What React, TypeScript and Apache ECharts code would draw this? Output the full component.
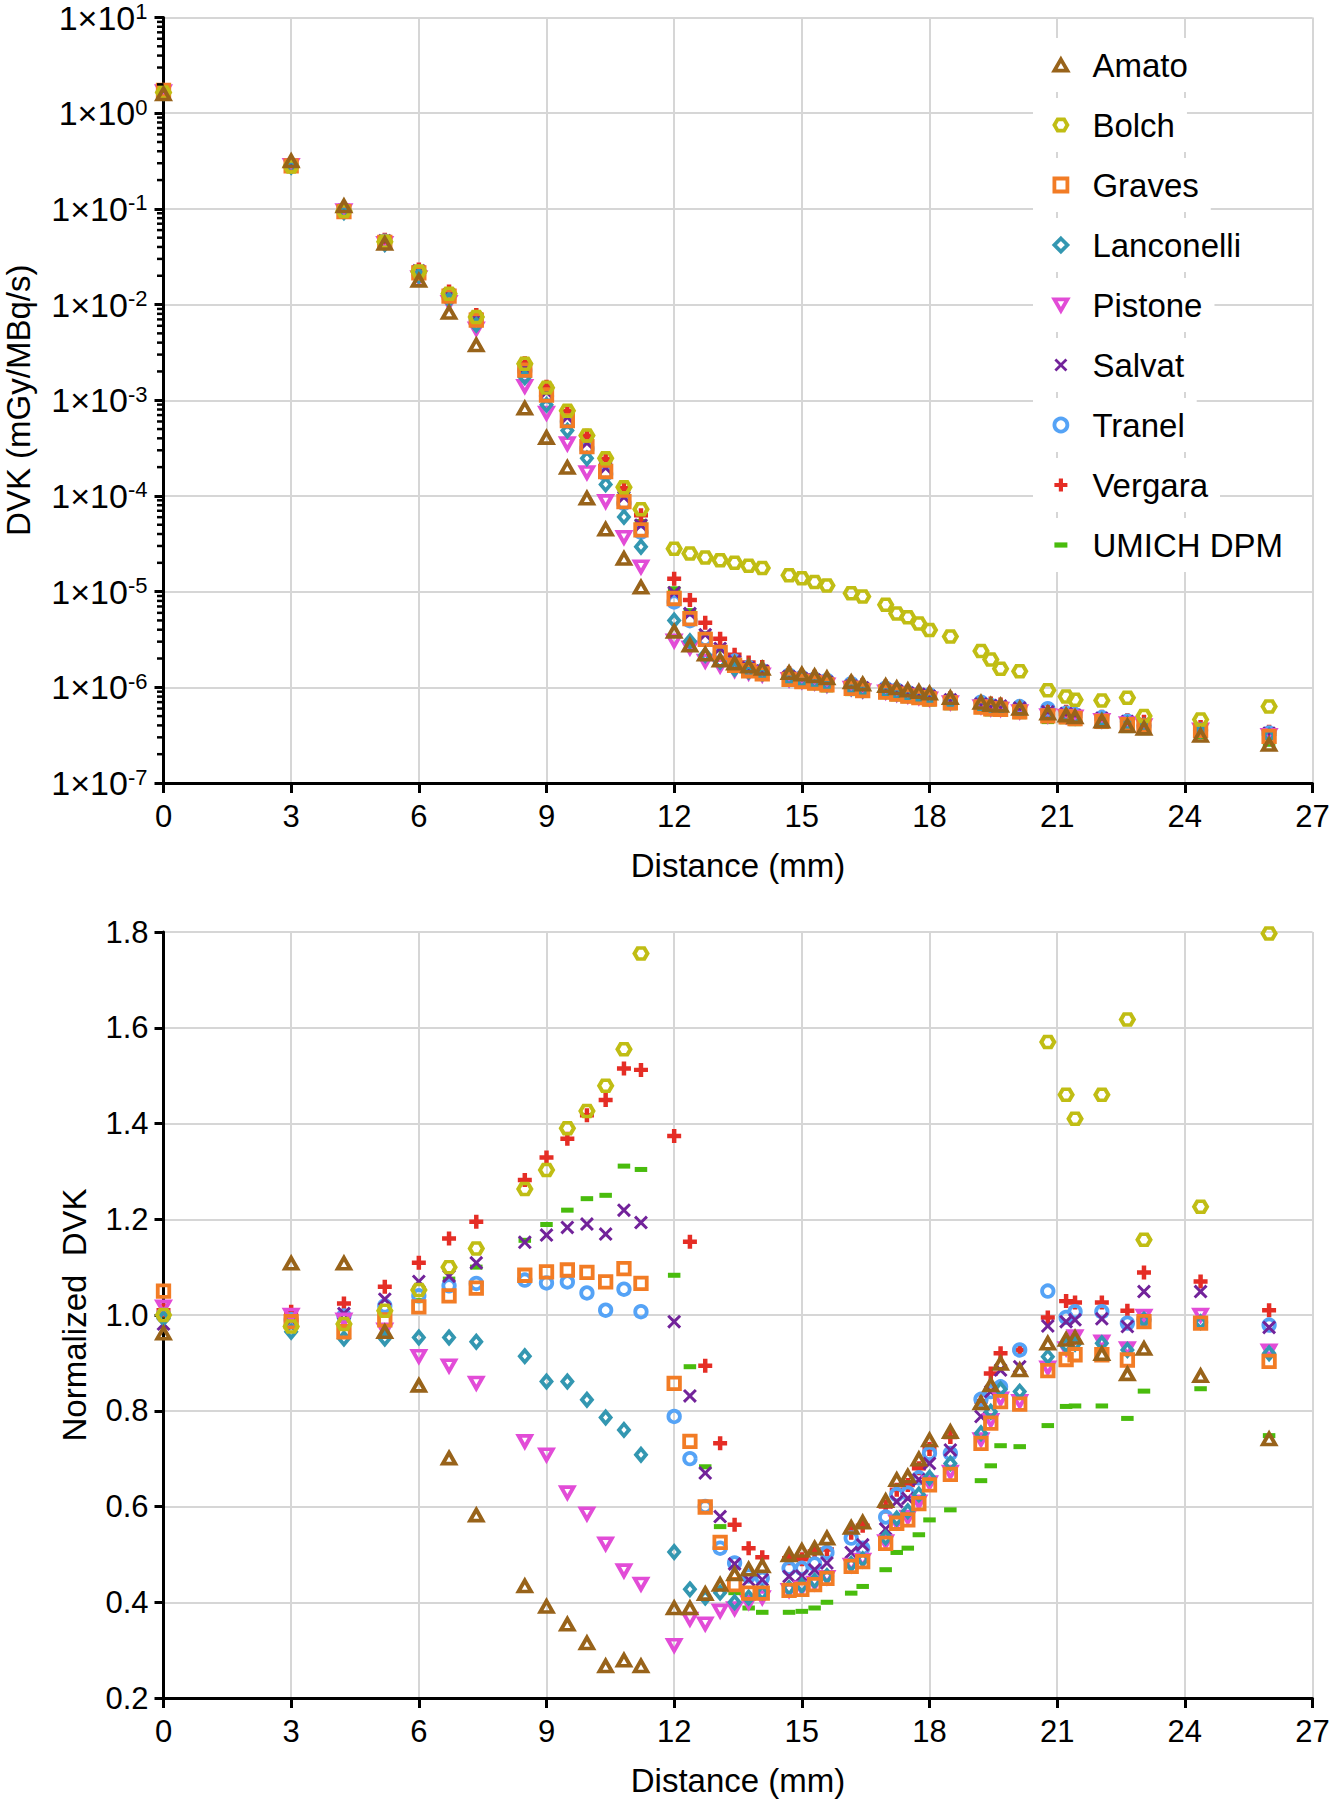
import React, { useEffect, useRef } from 'react';
import * as echarts from 'echarts';

const FONT = '"Liberation Sans", Arial, Helvetica, sans-serif';

// Distance from source voxel (mm)
const distanceMm = [0, 3.0, 4.24, 5.2, 6.0, 6.71, 7.35, 8.49, 9.0, 9.49, 9.95, 10.39, 10.82, 11.22, 12.0, 12.37, 12.73, 13.08, 13.42, 13.75, 14.07, 14.7, 15.0, 15.3, 15.59, 16.16, 16.43, 16.97, 17.23, 17.49, 17.75, 18.0, 18.49, 19.21, 19.44, 19.67, 20.12, 20.78, 21.21, 21.42, 22.05, 22.65, 23.04, 24.37, 25.98];

// Top panel: DVK (mGy/MBq/s)
const amatoDVK = [1.59, 0.316, 0.107, 0.0434, 0.0179, 0.00827, 0.00378, 8.25e-4, 4.07e-4, 1.98e-4, 9.45e-5, 4.49e-5, 2.22e-5, 1.11e-5, 3.84e-6, 2.75e-6, 2.22e-6, 1.92e-6, 1.79e-6, 1.66e-6, 1.57e-6, 1.42e-6, 1.37e-6, 1.31e-6, 1.25e-6, 1.14e-6, 1.08e-6, 1.04e-6, 9.84e-7, 9.35e-7, 9.02e-7, 8.65e-7, 7.79e-7, 6.94e-7, 6.58e-7, 6.47e-7, 6.02e-7, 5.36e-7, 5.12e-7, 4.91e-7, 4.41e-7, 3.95e-7, 3.72e-7, 3.14e-7, 2.52e-7];
const bolchDVK = [1.65, 0.278, 0.0952, 0.0454, 0.0221, 0.0130, 0.0074, 2.4e-3, 1.355e-3, 7.78e-4, 4.28e-4, 2.48e-4, 1.236e-4, 7.28e-5, 2.8e-5, 2.5e-5, 2.27e-5, 2.13e-5, 2.0e-5, 1.86e-5, 1.77e-5, 1.48e-5, 1.38e-5, 1.26e-5, 1.16e-5, 9.6e-6, 8.9e-6, 7.3e-6, 5.9e-6, 5.4e-6, 4.65e-6, 3.96e-6, 3.4e-6, 2.4e-6, 1.95e-6, 1.56e-6, 1.47e-6, 9.3e-7, 8.0e-7, 7.4e-7, 7.3e-7, 7.8e-7, 5.0e-7, 4.6e-7, 6.3e-7];
const gravesDVK = [1.73, 0.281, 0.0936, 0.0446, 0.0214, 0.01227, 0.00686, 2.06e-3, 1.134e-3, 6.13e-4, 3.27e-4, 1.8e-4, 8.72e-5, 4.42e-5, 8.48e-6, 5.23e-6, 3.17e-6, 2.31e-6, 1.70e-6, 1.49e-6, 1.38e-6, 1.21e-6, 1.15e-6, 1.11e-6, 1.06e-6, 9.74e-7, 9.22e-7, 8.89e-7, 8.48e-7, 8.07e-7, 7.82e-7, 7.55e-7, 6.87e-7, 6.22e-7, 5.96e-7, 5.9e-7, 5.54e-7, 5.04e-7, 4.9e-7, 4.72e-7, 4.4e-7, 4.08e-7, 3.94e-7, 3.54e-7, 3.07e-7];
const lanconelliDVK = [1.64, 0.275, 0.0922, 0.0428, 0.020, 0.01125, 0.00614, 1.74e-3, 8.95e-4, 4.82e-4, 2.47e-4, 1.32e-4, 6.04e-5, 2.94e-5, 5.0e-6, 3.03e-6, 2.17e-6, 1.85e-6, 1.56e-6, 1.46e-6, 1.39e-6, 1.23e-6, 1.17e-6, 1.13e-6, 1.07e-6, 9.84e-7, 9.31e-7, 9.1e-7, 8.63e-7, 8.32e-7, 8.06e-7, 7.72e-7, 7.11e-7, 6.4e-7, 6.14e-7, 6.08e-7, 5.71e-7, 5.2e-7, 5.06e-7, 4.84e-7, 4.52e-7, 4.17e-7, 3.96e-7, 3.55e-7, 3.13e-7];
const pistoneDVK = [1.68, 0.285, 0.096, 0.0436, 0.0192, 0.01055, 0.00558, 1.4e-3, 7.36e-4, 3.52e-4, 1.76e-4, 8.77e-5, 3.7e-5, 1.82e-5, 3.07e-6, 2.59e-6, 1.88e-6, 1.68e-6, 1.51e-6, 1.42e-6, 1.35e-6, 1.21e-6, 1.16e-6, 1.12e-6, 1.06e-6, 9.8e-7, 9.27e-7, 8.96e-7, 8.52e-7, 8.15e-7, 7.87e-7, 7.61e-7, 6.92e-7, 6.29e-7, 6.01e-7, 5.94e-7, 5.58e-7, 5.07e-7, 5.02e-7, 4.92e-7, 4.53e-7, 4.19e-7, 3.99e-7, 3.6e-7, 3.15e-7];
const salvatDVK = [1.62, 0.282, 0.0973, 0.0465, 0.0225, 0.01276, 0.00721, 2.19e-3, 1.214e-3, 6.62e-4, 3.57e-4, 1.96e-4, 9.69e-5, 4.95e-5, 9.76e-6, 5.9e-6, 3.55e-6, 2.55e-6, 1.87e-6, 1.59e-6, 1.48e-6, 1.29e-6, 1.23e-6, 1.19e-6, 1.13e-6, 1.03e-6, 9.88e-7, 9.4e-7, 9.15e-7, 8.7e-7, 8.46e-7, 8.07e-7, 7.4e-7, 6.7e-7, 6.47e-7, 6.37e-7, 6.07e-7, 5.57e-7, 5.32e-7, 5.1e-7, 4.76e-7, 4.39e-7, 4.2e-7, 3.78e-7, 3.31e-7];
const tranelDVK = [1.65, 0.282, 0.0968, 0.0459, 0.0218, 0.01252, 0.00693, 2.04e-3, 1.11e-3, 5.99e-4, 3.14e-4, 1.7e-4, 8.38e-5, 4.18e-5, 7.8e-6, 4.97e-6, 3.18e-6, 2.26e-6, 1.88e-6, 1.62e-6, 1.49e-6, 1.34e-6, 1.27e-6, 1.22e-6, 1.18e-6, 1.09e-6, 9.75e-7, 9.83e-7, 9.38e-7, 8.85e-7, 8.51e-7, 8.32e-7, 7.32e-7, 7.0e-7, 6.47e-7, 6.12e-7, 6.3e-7, 5.99e-7, 5.37e-7, 5.19e-7, 4.83e-7, 4.42e-7, 3.96e-7, 3.55e-7, 3.33e-7];
const vergaraDVK = [1.67, 0.287, 0.0993, 0.0477, 0.0233, 0.01369, 0.00777, 2.44e-3, 1.382e-3, 7.66e-4, 4.25e-4, 2.43e-4, 1.2e-4, 6.27e-5, 1.36e-5, 8.19e-6, 4.74e-6, 3.22e-6, 2.19e-6, 1.82e-6, 1.63e-6, 1.4e-6, 1.32e-6, 1.29e-6, 1.2e-6, 1.12e-6, 1.06e-6, 1.02e-6, 9.53e-7, 9.09e-7, 8.77e-7, 8.42e-7, 7.67e-7, 6.97e-7, 6.76e-7, 6.62e-7, 6.3e-7, 5.67e-7, 5.56e-7, 5.28e-7, 4.92e-7, 4.54e-7, 4.36e-7, 3.85e-7, 3.43e-7];
const umichDVK = [1.65, 0.282, 0.096, 0.045, 0.0216, 0.01269, 0.00715, 2.2e-3, 1.237e-3, 6.83e-4, 3.73e-4, 2.1e-4, 1.042e-4, 5.41e-5, 1.07e-5, 6.33e-6, 3.62e-6, 2.46e-6, 1.64e-6, 1.38e-6, 1.25e-6, 1.08e-6, 1.03e-6, 9.89e-7, 9.4e-7, 8.59e-7, 8.23e-7, 7.96e-7, 7.56e-7, 7.23e-7, 6.98e-7, 6.69e-7, 6.11e-7, 5.56e-7, 5.27e-7, 5.23e-7, 4.93e-7, 4.38e-7, 4.37e-7, 4.17e-7, 3.89e-7, 3.53e-7, 3.36e-7, 3.05e-7, 2.54e-7];

// Bottom panel: normalized DVK
const amatoNorm = [0.962, 1.108, 1.108, 0.965, 0.853, 0.701, 0.582, 0.434, 0.391, 0.354, 0.315, 0.267, 0.279, 0.267, 0.388, 0.388, 0.418, 0.437, 0.459, 0.469, 0.476, 0.499, 0.508, 0.513, 0.534, 0.556, 0.567, 0.612, 0.656, 0.663, 0.699, 0.739, 0.756, 0.816, 0.854, 0.899, 0.885, 0.941, 0.949, 0.953, 0.919, 0.877, 0.93, 0.873, 0.741];
const bolchNorm = [1.0, 0.976, 0.981, 1.009, 1.052, 1.1, 1.139, 1.263, 1.303, 1.39, 1.426, 1.479, 1.555, 1.755, 2.83, 3.52, 4.28, 4.84, 5.13, 5.24, 5.36, 5.19, 5.11, 4.94, 4.94, 4.68, 4.68, 4.29, 3.93, 3.83, 3.6, 3.38, 3.3, 2.82, 2.53, 2.17, 2.16, 1.57, 1.46, 1.41, 1.46, 1.617, 1.157, 1.226, 1.797];
const gravesNorm = [1.05, 0.986, 0.965, 0.99, 1.017, 1.04, 1.056, 1.083, 1.09, 1.094, 1.089, 1.069, 1.097, 1.066, 0.857, 0.736, 0.599, 0.525, 0.437, 0.419, 0.419, 0.425, 0.427, 0.437, 0.45, 0.475, 0.485, 0.523, 0.565, 0.572, 0.606, 0.645, 0.667, 0.732, 0.774, 0.819, 0.814, 0.884, 0.907, 0.917, 0.917, 0.906, 0.986, 0.983, 0.903];
const lanconelliNorm = [0.993, 0.965, 0.951, 0.951, 0.953, 0.953, 0.944, 0.914, 0.861, 0.861, 0.823, 0.786, 0.76, 0.708, 0.505, 0.427, 0.41, 0.42, 0.40, 0.41, 0.42, 0.43, 0.435, 0.445, 0.455, 0.48, 0.49, 0.535, 0.575, 0.59, 0.625, 0.66, 0.69, 0.753, 0.798, 0.845, 0.84, 0.913, 0.937, 0.94, 0.941, 0.927, 0.99, 0.985, 0.92];
const pistoneNorm = [1.017, 1.0, 0.99, 0.969, 0.914, 0.894, 0.858, 0.736, 0.708, 0.629, 0.585, 0.522, 0.466, 0.438, 0.31, 0.365, 0.355, 0.382, 0.387, 0.40, 0.41, 0.425, 0.43, 0.44, 0.452, 0.478, 0.488, 0.527, 0.568, 0.578, 0.61, 0.65, 0.672, 0.74, 0.78, 0.825, 0.82, 0.89, 0.93, 0.955, 0.944, 0.93, 0.998, 1.0, 0.925];
const salvatNorm = [0.981, 0.99, 1.003, 1.033, 1.07, 1.081, 1.109, 1.152, 1.167, 1.183, 1.19, 1.169, 1.219, 1.193, 0.986, 0.831, 0.67, 0.579, 0.48, 0.447, 0.447, 0.454, 0.455, 0.468, 0.482, 0.504, 0.52, 0.553, 0.61, 0.617, 0.656, 0.69, 0.718, 0.788, 0.84, 0.885, 0.892, 0.977, 0.986, 0.99, 0.992, 0.976, 1.049, 1.049, 0.974];
const tranelNorm = [1.0, 0.99, 0.998, 1.019, 1.04, 1.061, 1.066, 1.073, 1.067, 1.069, 1.046, 1.01, 1.054, 1.007, 0.788, 0.70, 0.60, 0.513, 0.482, 0.455, 0.45, 0.471, 0.471, 0.48, 0.504, 0.534, 0.513, 0.578, 0.625, 0.628, 0.66, 0.711, 0.711, 0.824, 0.84, 0.85, 0.927, 1.05, 0.995, 1.007, 1.007, 0.983, 0.99, 0.985, 0.979];
const vergaraNorm = [1.01, 1.007, 1.024, 1.059, 1.109, 1.16, 1.195, 1.282, 1.329, 1.368, 1.417, 1.449, 1.515, 1.512, 1.374, 1.153, 0.894, 0.732, 0.562, 0.513, 0.494, 0.492, 0.49, 0.506, 0.51, 0.545, 0.56, 0.60, 0.635, 0.645, 0.68, 0.72, 0.745, 0.82, 0.878, 0.92, 0.927, 0.995, 1.029, 1.026, 1.026, 1.009, 1.089, 1.07, 1.01];
const umichNorm = [1.0, 0.99, 0.99, 1.0, 1.03, 1.075, 1.10, 1.156, 1.189, 1.219, 1.243, 1.25, 1.311, 1.304, 1.083, 0.892, 0.683, 0.558, 0.42, 0.388, 0.379, 0.379, 0.381, 0.388, 0.40, 0.419, 0.433, 0.468, 0.504, 0.513, 0.541, 0.572, 0.593, 0.654, 0.685, 0.727, 0.725, 0.769, 0.809, 0.81, 0.81, 0.784, 0.841, 0.846, 0.748];

// Axis ticks
const xTicks = { min: 0, max: 27, interval: 3 };
const logExtent = { min: 1e-7, max: 10 };
const normTicks = { min: 0.2, max: 1.8, interval: 0.2 };

const legendOrder = ['Amato', 'Bolch', 'Graves', 'Lanconelli', 'Pistone', 'Salvat', 'Tranel', 'Vergara', 'UMICH DPM'];
const drawOrder = ['UMICH DPM', 'Vergara', 'Tranel', 'Salvat', 'Pistone', 'Lanconelli', 'Graves', 'Bolch', 'Amato'];

const dvkByName: Record<string, number[]> = {
  Amato: amatoDVK, Bolch: bolchDVK, Graves: gravesDVK, Lanconelli: lanconelliDVK, Pistone: pistoneDVK,
  Salvat: salvatDVK, Tranel: tranelDVK, Vergara: vergaraDVK, 'UMICH DPM': umichDVK,
};
const normByName: Record<string, number[]> = {
  Amato: amatoNorm, Bolch: bolchNorm, Graves: gravesNorm, Lanconelli: lanconelliNorm, Pistone: pistoneNorm,
  Salvat: salvatNorm, Tranel: tranelNorm, Vergara: vergaraNorm, 'UMICH DPM': umichNorm,
};

const TRI_UP = 'path://M50,0 L100,87 L0,87 Z';
const TRI_DOWN = 'path://M0,0 L100,0 L50,87 Z';
const HEX = 'path://M0,43 L25,0 L75,0 L100,43 L75,86 L25,86 Z';
const XMARK = 'path://M0,15 L15,0 L50,35 L85,0 L100,15 L65,50 L100,85 L85,100 L50,65 L15,100 L0,85 L35,50 Z';
const PLUS = 'path://M34,0 L66,0 L66,34 L100,34 L100,66 L66,66 L66,100 L34,100 L34,66 L0,66 L0,34 L34,34 Z';
const DASH = 'path://M0,0 L100,0 L100,40 L0,40 Z';

type Sty = { symbol: string; size: number | number[]; hollow: boolean; color: string };
const STYLE: Record<string, Sty> = {
  Amato: { symbol: TRI_UP, size: [12.5, 11], hollow: true, color: '#98631A' },
  Bolch: { symbol: HEX, size: [13, 11], hollow: true, color: '#C0BD14' },
  Graves: { symbol: 'rect', size: 11.5, hollow: true, color: '#F27C25' },
  Lanconelli: { symbol: 'diamond', size: [10, 12], hollow: true, color: '#3397B1' },
  Pistone: { symbol: TRI_DOWN, size: [12.5, 11], hollow: true, color: '#E24CD7' },
  Salvat: { symbol: XMARK, size: 14, hollow: false, color: '#72239A' },
  Tranel: { symbol: 'circle', size: 11.5, hollow: true, color: '#55A3F6' },
  Vergara: { symbol: PLUS, size: 14, hollow: false, color: '#E52D25' },
  'UMICH DPM': { symbol: DASH, size: [12.5, 5], hollow: false, color: '#49BC0D' },
};

const itemStyleOf = (s: Sty) =>
  s.hollow
    ? { color: 'rgba(255,255,255,0)', borderColor: s.color, borderWidth: 3.8, opacity: 1 }
    : { color: s.color, borderWidth: 0, opacity: 1 };

const minorTickValues: number[] = [];
for (let e = -7; e < 1; e++) {
  for (let m = 2; m <= 9; m++) minorTickValues.push(m * Math.pow(10, e));
}

const labelStyle = { color: '#000', fontFamily: FONT };

function buildOption() {
  const scatterSeries: any[] = [];
  [0, 1].forEach((g) => {
    drawOrder.forEach((name) => {
      const s = STYLE[name];
      const vals = g === 0 ? dvkByName[name] : normByName[name];
      scatterSeries.push({
        type: 'scatter',
        name,
        xAxisIndex: g,
        yAxisIndex: g,
        data: distanceMm.map((d, i) => [d, vals[i]]),
        symbol: s.symbol,
        symbolSize: s.size,
        itemStyle: itemStyleOf(s),
        emphasis: { disabled: true },
        clip: true,
        z: 2,
      });
    });
  });

  const minorTickSeries = {
    type: 'custom',
    xAxisIndex: 0,
    yAxisIndex: 0,
    silent: true,
    clip: false,
    z: 3,
    data: minorTickValues.map((v) => [0, v]),
    renderItem: (_params: any, api: any) => {
      const p = api.coord([api.value(0), api.value(1)]);
      return {
        type: 'line',
        shape: { x1: p[0] - 6.5, y1: p[1], x2: p[0], y2: p[1] },
        style: { stroke: '#000', lineWidth: 2.5 },
      };
    },
  };

  const xAxisCommon = (gridIndex: number) => ({
    type: 'value',
    gridIndex,
    min: xTicks.min,
    max: xTicks.max,
    interval: xTicks.interval,
    name: 'Distance (mm)',
    nameLocation: 'middle',
    nameGap: 66,
    nameMoveOverlap: false,
    nameTextStyle: { fontSize: 33, ...labelStyle },
    axisLine: { show: true, onZero: false, lineStyle: { color: '#000', width: 3 } },
    axisTick: { show: true, length: 10, lineStyle: { color: '#000', width: 3 } },
    axisLabel: { fontSize: 31, margin: 18, showMinLabel: true, showMaxLabel: true, ...labelStyle },
    splitLine: { show: true, lineStyle: { color: '#d6d6d6', width: 2 } },
    minorTick: { show: false },
  });

  const legendRows = legendOrder.map((_, i) => ({
    type: 'rect',
    z: 1,
    silent: true,
    shape: { x: 1033, y: 38 + i * 60, width: 40, height: 54 },
    style: { fill: '#ffffff' },
  }));

  return {
    animation: false,
    backgroundColor: '#ffffff',
    textStyle: { fontFamily: FONT },
    grid: [
      { left: 163.5, top: 17.5, width: 1149, height: 765.5, containLabel: false, outerBoundsMode: 'none' },
      { left: 163.5, top: 932, width: 1149, height: 766, containLabel: false, outerBoundsMode: 'none' },
    ],
    xAxis: [xAxisCommon(0), xAxisCommon(1)],
    yAxis: [
      {
        type: 'log',
        gridIndex: 0,
        logBase: 10,
        min: logExtent.min,
        max: logExtent.max,
        splitNumber: 8,
        name: 'DVK (mGy/MBq/s)',
        nameLocation: 'middle',
        nameGap: 129,
        nameMoveOverlap: false,
        nameTextStyle: { fontSize: 33, ...labelStyle },
        axisLine: { show: true, onZero: false, lineStyle: { color: '#000', width: 3 } },
        axisTick: { show: true, length: 9, lineStyle: { color: '#000', width: 3 } },
        axisLabel: {
          margin: 16,
          formatter: (v: number) => `{m|1×10}{s|${Math.round(Math.log10(v))}}`,
          rich: {
            m: { fontSize: 34, lineHeight: 34, verticalAlign: 'bottom', ...labelStyle },
            s: { fontSize: 22, lineHeight: 24, verticalAlign: 'top', ...labelStyle },
          },
          showMinLabel: true,
          showMaxLabel: true,
        },
        splitLine: { show: true, lineStyle: { color: '#d6d6d6', width: 2 } },
      },
      {
        type: 'value',
        gridIndex: 1,
        min: normTicks.min,
        max: normTicks.max,
        interval: normTicks.interval,
        name: 'Normalized  DVK',
        nameLocation: 'middle',
        nameGap: 73,
        nameMoveOverlap: false,
        nameTextStyle: { fontSize: 33, ...labelStyle },
        axisLine: { show: true, onZero: false, lineStyle: { color: '#000', width: 3 } },
        axisTick: { show: true, length: 9, lineStyle: { color: '#000', width: 3 } },
        axisLabel: {
          fontSize: 31,
          margin: 15,
          formatter: (v: number) => v.toFixed(1),
          showMinLabel: true,
          showMaxLabel: true,
          ...labelStyle,
        },
        splitLine: { show: true, lineStyle: { color: '#d6d6d6', width: 2 } },
      },
    ],
    legend: {
      orient: 'vertical',
      left: 1052.5,
      top: 38,
      padding: 0,
      itemWidth: 13,
      itemHeight: 13,
      itemGap: 6,
      selectedMode: false,
      z: 4,
      data: legendOrder.map((name) =>
        STYLE[name].hollow ? { name, itemStyle: { borderWidth: 3.8 } } : { name }
      ),
      textStyle: {
        fontSize: 33,
        lineHeight: 34,
        color: '#000',
        fontFamily: FONT,
        backgroundColor: '#ffffff',
        padding: [10, 12, 10, 20],
      },
    },
    graphic: { elements: legendRows },
    series: [minorTickSeries, ...scatterSeries],
  };
}

export default function App() {
  const ref = useRef<HTMLDivElement>(null);
  useEffect(() => {
    if (!ref.current) return;
    const chart = echarts.init(ref.current, null, { renderer: 'svg' });
    chart.setOption(buildOption() as any);
    return () => chart.dispose();
  }, []);
  return (
    <div
      ref={ref}
      style={{ position: 'absolute', left: 0, top: 0, width: 1332, height: 1800, background: '#fff' }}
    />
  );
}
